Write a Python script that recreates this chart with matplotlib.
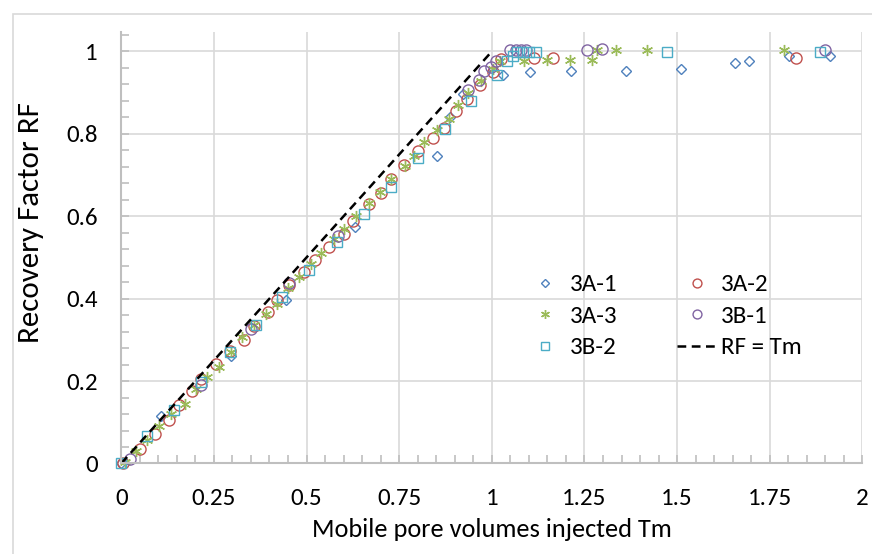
import matplotlib
matplotlib.use("Agg")
import matplotlib.pyplot as plt
from matplotlib.ticker import MultipleLocator, FuncFormatter

# recovery factor vs mobile pore volumes injected, one list pair per core
tm_3a1 = [0.0, 0.108, 0.296, 0.444, 0.630, 0.851, 0.888, 0.922, 1.030, 1.104,
          1.214, 1.361, 1.511, 1.657, 1.693, 1.803, 1.913]
rf_3a1 = [0.0, 0.116, 0.262, 0.397, 0.573, 0.746, 0.840, 0.897, 0.944, 0.951,
          0.953, 0.953, 0.958, 0.972, 0.977, 0.990, 0.989]

tm_3a2 = [0.006, 0.051, 0.092, 0.128, 0.155, 0.191, 0.214, 0.255, 0.294, 0.331,
          0.359, 0.395, 0.420, 0.453, 0.494, 0.524, 0.562, 0.602, 0.625, 0.668,
          0.700, 0.727, 0.764, 0.802, 0.842, 0.872, 0.904, 0.932, 0.967, 1.003,
          1.024, 1.115, 1.165, 1.822]
rf_3a2 = [0.0, 0.036, 0.072, 0.106, 0.141, 0.177, 0.206, 0.241, 0.274, 0.300,
          0.333, 0.367, 0.397, 0.432, 0.465, 0.494, 0.525, 0.558, 0.588, 0.630,
          0.657, 0.690, 0.724, 0.758, 0.789, 0.815, 0.856, 0.885, 0.918, 0.950,
          0.981, 0.985, 0.985, 0.985]

tm_3a3 = [0.011, 0.040, 0.070, 0.101, 0.135, 0.173, 0.203, 0.232, 0.264, 0.296,
          0.327, 0.358, 0.390, 0.420, 0.451, 0.480, 0.512, 0.539, 0.575, 0.602,
          0.634, 0.668, 0.697, 0.729, 0.765, 0.791, 0.818, 0.851, 0.885, 0.910,
          0.937, 0.971, 1.002, 1.023, 1.086, 1.149, 1.212, 1.270, 1.283, 1.336,
          1.418, 1.789]
rf_3a3 = [0.003, 0.030, 0.056, 0.092, 0.120, 0.145, 0.180, 0.209, 0.235, 0.270,
          0.307, 0.335, 0.363, 0.388, 0.426, 0.453, 0.485, 0.510, 0.545, 0.570,
          0.600, 0.632, 0.660, 0.691, 0.723, 0.747, 0.780, 0.810, 0.837, 0.869,
          0.899, 0.928, 0.958, 0.978, 0.978, 0.980, 0.980, 0.980, 1.004, 1.004,
          1.004, 1.004]

tm_3b1 = [0.024, 0.215, 0.350, 0.452, 0.584, 0.936, 0.966, 0.980, 0.998, 1.011,
          1.048, 1.064, 1.080, 1.093, 1.257, 1.297, 1.899]
rf_3b1 = [0.011, 0.190, 0.327, 0.439, 0.551, 0.907, 0.931, 0.952, 0.962, 0.978,
          1.004, 1.004, 1.004, 1.004, 1.004, 1.006, 1.004]

tm_3b2 = [0.0, 0.070, 0.142, 0.214, 0.294, 0.363, 0.435, 0.508, 0.583, 0.654,
          0.727, 0.801, 0.874, 0.945, 1.015, 1.041, 1.057, 1.068, 1.084, 1.100,
          1.118, 1.474, 1.885]
rf_3b2 = [0.0, 0.066, 0.130, 0.197, 0.270, 0.335, 0.404, 0.470, 0.537, 0.606,
          0.672, 0.742, 0.811, 0.879, 0.942, 0.978, 0.990, 0.998, 0.998, 0.998,
          0.998, 0.998, 0.998]

# ideal piston displacement
tm_line = [0, 1]
rf_line = [0, 1]

plt.rcParams['font.family'] = ['Carlito', 'DejaVu Sans']
fs = 18

fig = plt.figure(figsize=(8.72, 5.54), dpi=100)
# light outer chart border
fig.patches.append(plt.Rectangle((13/872, -0.1), 1.2, (554-14)/554 + 0.1,
                                 transform=fig.transFigure, fill=False,
                                 edgecolor='#d9d9d9', lw=1.2))
ax = fig.add_axes([0.139, 0.1634, 0.850, 0.7794])

ms = dict(linestyle='none', markerfacecolor='none', markeredgewidth=1.0, clip_on=False)
h1, = ax.plot(tm_3a1, rf_3a1, marker='D', ms=5.5, color='#4f81bd', label='3A-1', **ms)
h2, = ax.plot(tm_3a2, rf_3a2, marker='o', ms=8, color='#c0504d', label='3A-2', **ms)
h3, = ax.plot(tm_3a3, rf_3a3, marker=(6, 2, 0), ms=8, color='#9bbb59', label='3A-3', **ms)
h4, = ax.plot(tm_3b1, rf_3b1, marker='o', ms=8, color='#8064a2', label='3B-1', **ms)
h5, = ax.plot(tm_3b2, rf_3b2, marker='s', ms=7.5, color='#4bacc6', label='3B-2', **ms)
h6, = ax.plot(tm_line, rf_line, color='black', lw=1.8, dashes=(3.5, 2.2), label='RF = Tm')

ax.set_xlim(0, 2)
ax.set_ylim(0, 1.048)
ax.xaxis.set_major_locator(MultipleLocator(0.25))
ax.xaxis.set_minor_locator(MultipleLocator(0.05))
ax.yaxis.set_major_locator(MultipleLocator(0.2))
ax.yaxis.set_minor_locator(MultipleLocator(0.04))

fmt = FuncFormatter(lambda v, p: ('%g' % round(v, 2)))
ax.xaxis.set_major_formatter(fmt)
ax.yaxis.set_major_formatter(fmt)

ax.grid(True, which='major', color='#d9d9d9', lw=1.2)
ax.set_axisbelow(True)
for s in ['top', 'right']:
    ax.spines[s].set_visible(False)
for s in ['left', 'bottom']:
    ax.spines[s].set_color('#bfbfbf')
    ax.spines[s].set_linewidth(1.5)

ax.tick_params(which='both', direction='in', color='#bfbfbf', width=1.2)
ax.tick_params(which='major', length=6, labelsize=fs)
ax.tick_params(which='minor', length=6)
ax.tick_params(axis='x', which='major', pad=18)
ax.tick_params(axis='y', which='major', pad=17)

ax.set_xlabel('Mobile pore volumes injected Tm', fontsize=19, labelpad=6)
ax.set_ylabel('Recovery Factor RF', fontsize=22.3)
ax.yaxis.set_label_coords(-0.104, 0.557)

# row-wise ordering in a two column legend
ax.legend([h1, h3, h5, h2, h4, h6], ['3A-1', '3A-3', '3B-2', '3A-2', '3B-1', 'RF = Tm'],
          ncol=2, loc='upper left', bbox_to_anchor=(0.532, 0.462), frameon=False,
          fontsize=fs, handlelength=1.56, handletextpad=0.2, columnspacing=2.4,
          labelspacing=0.4, markerscale=0.8, borderaxespad=0)

fig.savefig('out.png', dpi=100)
